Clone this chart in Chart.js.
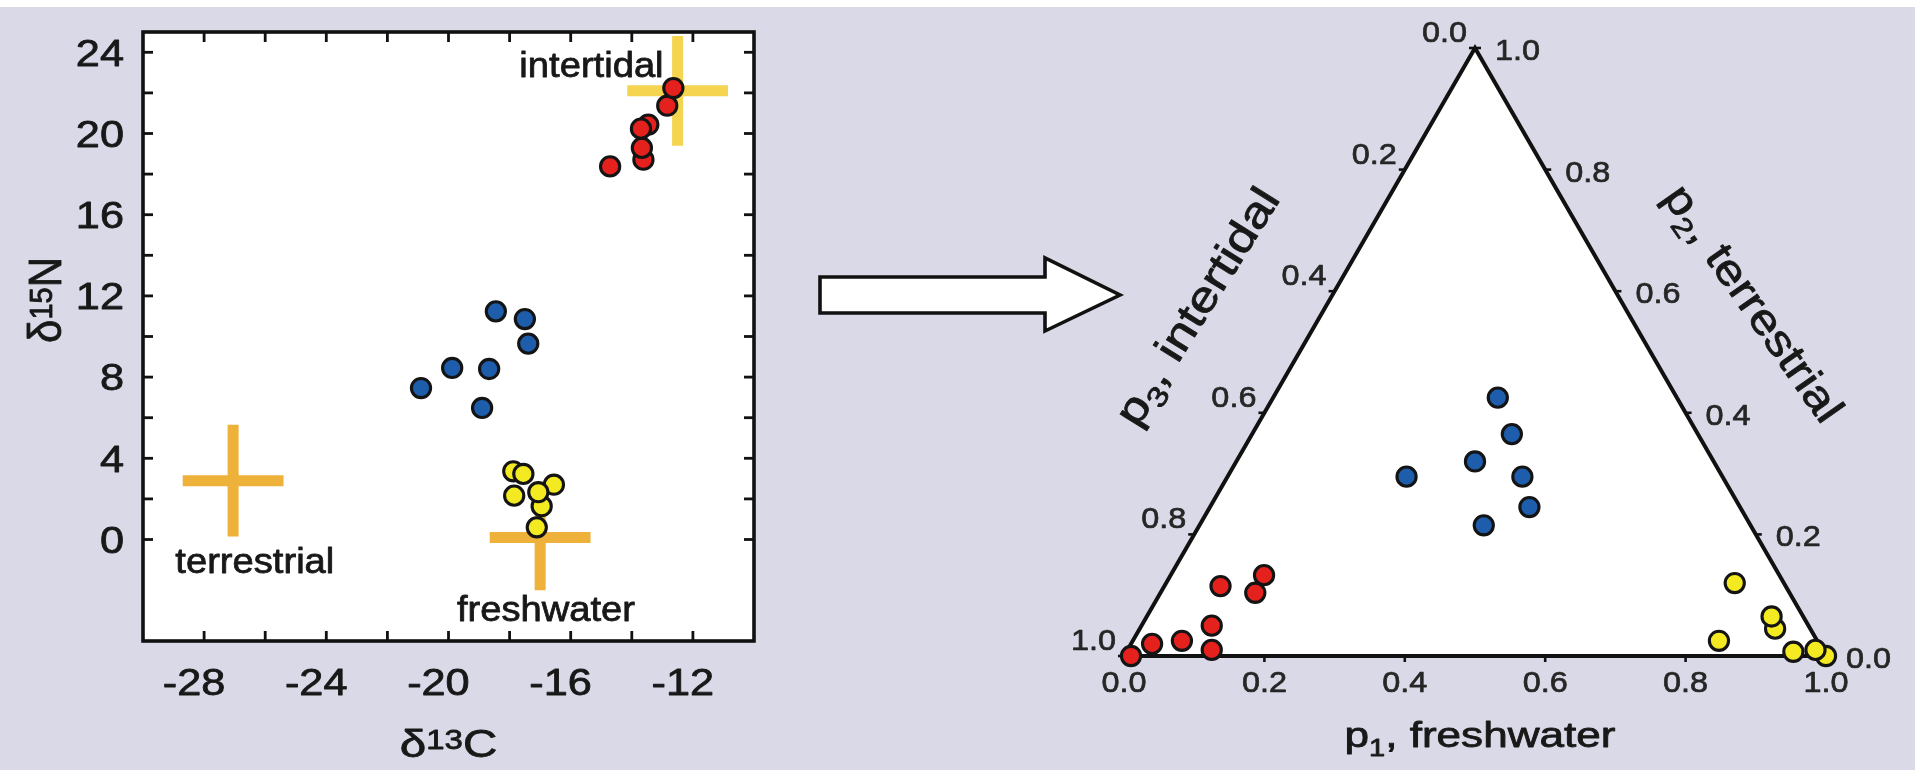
<!DOCTYPE html>
<html>
<head>
<meta charset="utf-8">
<script src="https://cdn.jsdelivr.net/npm/chart.js@4.4.0/dist/chart.umd.min.js"></script>
<style>
  html, body { margin:0; padding:0; width:1915px; height:770px; overflow:hidden; background:#D9D9E7; }
  #strip { position:absolute; left:0; top:0; width:1915px; height:7px; background:#ffffff; }
  #w1 { position:absolute; left:0; top:0; width:790px; height:770px; }
  #w2 { position:absolute; left:800px; top:0; width:1115px; height:770px; }
  #arrow { position:absolute; left:0; top:0; }
</style>
</head>
<body>
<div id="strip"></div>
<div id="w1"><canvas id="c1" width="790" height="770"></canvas></div>
<svg id="arrow" width="1915" height="770">
  <polygon points="820,277 1045,277 1045,258 1120,295 1045,331 1045,313 820,313"
           fill="#ffffff" stroke="#111111" stroke-width="3.6" stroke-linejoin="miter"/>
</svg>
<div id="w2"><canvas id="c2" width="1115" height="770"></canvas></div>

<script>
// ---------------- Left panel data: d13C (x) vs d15N (y) ----------------
const intertidalD13C = [-14.71, -13.62, -13.67, -13.46, -13.70, -12.84, -12.64];
const intertidalD15N = [18.38, 18.71, 19.29, 20.44, 20.24, 21.37, 22.24];
const mixedD13C      = [-18.45, -17.50, -17.39, -19.88, -18.67, -20.90, -18.90];
const mixedD15N      = [11.24, 10.86, 9.65, 8.45, 8.40, 7.46, 6.48];
const freshD13C      = [-17.88, -17.55, -16.55, -17.85, -16.95, -17.06, -17.11];
const freshD15N      = [3.36, 3.23, 2.70, 2.16, 1.64, 2.33, 0.60];

// Source means with error bars (crosses)
const sourceNames    = ['intertidal', 'terrestrial', 'freshwater'];
const sourceD13C     = [-12.5, -27.05, -17.0];
const sourceD15N     = [22.1, 2.9, 0.1];
const sourceD13CErr  = [1.65, 1.65, 1.65];
const sourceD15NErr  = [2.7, 2.75, 2.6];

// Left panel axes
const xRange = [-30, -10];
const yRange = [-5, 25];
const xTickLabels = [-28, -24, -20, -16, -12];
const xTickMarks  = [-28, -26, -24, -22, -20, -18, -16, -14, -12];
const yTickLabels = [0, 4, 8, 12, 16, 20, 24];
const yTickMarks  = [0, 2, 4, 6, 8, 10, 12, 14, 16, 18, 20, 22, 24];

// ---------------- Right panel data: ternary proportions ----------------
// p1 = freshwater, p2 = terrestrial, p3 = intertidal = 1 - p1 - p2
const redP1    = [0.01, 0.03, 0.07, 0.10, 0.12, 0.08, 0.133, 0.135];
const redP2    = [0.00, 0.02, 0.025, 0.05, 0.01, 0.115, 0.133, 0.104];
const blueP1   = [0.32, 0.37, 0.34, 0.255, 0.42, 0.455, 0.405];
const blueP2   = [0.425, 0.365, 0.32, 0.295, 0.295, 0.245, 0.215];
const yellowP1 = [0.81, 0.905, 0.89, 0.835, 0.95, 1.0, 0.98];
const yellowP2 = [0.12, 0.045, 0.065, 0.025, 0.007, 0.0, 0.01];
const ternaryTicks      = [0.0, 0.2, 0.4, 0.6, 0.8, 1.0];
const ternaryTickLabels = ['0.0', '0.2', '0.4', '0.6', '0.8', '1.0'];

// ---------------- helpers ----------------
const FONT = "'Liberation Sans', Arial, Helvetica, sans-serif";
const H = Math.sqrt(3) / 2;
const RED = '#E5211D', BLUE = '#1D5DAB', YELLOW = '#F4EA22', EDGE = '#141414';
const sourceColors = ['#F5D450', '#EEB13A', '#EEB13A'];

function zip(xs, ys) { return xs.map((v, i) => ({ x: v, y: ys[i] })); }
function ternaryXY(p1s, p2s) { return p1s.map((p1, i) => ({ x: p1 + p2s[i] / 2, y: p2s[i] * H })); }
function crossData(i) {
  const cx = sourceD13C[i], cy = sourceD15N[i], ex = sourceD13CErr[i], ey = sourceD15NErr[i];
  return [{x: cx - ex, y: cy}, {x: cx + ex, y: cy}, {x: cx, y: null}, {x: cx, y: cy - ey}, {x: cx, y: cy + ey}];
}
function richText(ctx, parts, x, y, o) {
  o = o || {};
  ctx.save();
  ctx.translate(x, y);
  if (o.preScale) ctx.scale(o.preScale, 1);
  if (o.rot) ctx.rotate(o.rot);
  if (o.postScale) ctx.scale(o.postScale, 1);
  const col = o.color || '#181818';
  ctx.fillStyle = col;
  ctx.strokeStyle = col;
  ctx.lineWidth = o.weight === undefined ? 0.8 : o.weight;
  ctx.lineJoin = 'round';
  ctx.textBaseline = 'alphabetic';
  ctx.textAlign = 'left';
  let total = 0;
  const widths = parts.map(p => { ctx.font = p.s + 'px ' + FONT; const w = ctx.measureText(p.t).width; total += w; return w; });
  let cx = o.align === 'right' ? -total : (o.align === 'left' ? 0 : -total / 2);
  cx += (o.shift || 0);
  parts.forEach((p, i) => {
    ctx.font = p.s + 'px ' + FONT;
    const yy = (o.dy || 0) + (p.dy || 0);
    ctx.fillText(p.t, cx, yy);
    if (ctx.lineWidth > 0) ctx.strokeText(p.t, cx, yy);
    cx += widths[i];
  });
  ctx.restore();
}
function seg(ctx, x1, y1, x2, y2) { ctx.beginPath(); ctx.moveTo(x1, y1); ctx.lineTo(x2, y2); ctx.stroke(); }

const pointStyle = { pointRadius: 9.6, pointBorderWidth: 3.1, borderColor: EDGE, pointHoverRadius: 9.6, clip: false, order: 1 };

// ---------------- Left chart ----------------
const sourceLabelPos = { intertidal: [-15.32, 22.8], terrestrial: [-26.34, -1.66], freshwater: [-16.81, -4.02] };

const leftPanel = {
  id: 'leftPanel',
  beforeDatasetsDraw(chart) {
    const { ctx, chartArea: a } = chart;
    ctx.save(); ctx.fillStyle = '#ffffff'; ctx.fillRect(a.left, a.top, a.right - a.left, a.bottom - a.top); ctx.restore();
    const { x, y } = chart.scales;
    sourceNames.forEach(n => {
      const p = sourceLabelPos[n];
      richText(ctx, [{ t: n, s: 35 }], x.getPixelForValue(p[0]), y.getPixelForValue(p[1]), { align: 'center', preScale: 1.09 });
    });
  },
  afterDatasetsDraw(chart) {
    const { ctx, chartArea: a } = chart;
    const { x, y } = chart.scales;
    ctx.save();
    ctx.strokeStyle = '#111'; ctx.lineWidth = 2.8; ctx.lineCap = 'butt';
    xTickMarks.forEach(v => { const px = x.getPixelForValue(v); seg(ctx, px, a.bottom, px, a.bottom - 10); seg(ctx, px, a.top, px, a.top + 10); });
    yTickMarks.forEach(v => { const py = y.getPixelForValue(v); seg(ctx, a.left, py, a.left + 10, py); seg(ctx, a.right, py, a.right - 10, py); });
    ctx.lineWidth = 3.6; ctx.strokeRect(a.left, a.top, a.right - a.left, a.bottom - a.top);
    // tick labels
    ctx.font = '37px ' + FONT;
    const m = ctx.measureText('-').width;
    xTickLabels.forEach(v => {
      richText(ctx, [{ t: String(v), s: 37 }], x.getPixelForValue(v), a.bottom + 54, { align: 'center', preScale: 1.17, shift: -m * 0.7 });
    });
    yTickLabels.forEach(v => {
      richText(ctx, [{ t: String(v), s: 37 }], a.left - 19, y.getPixelForValue(v) + 13.2, { align: 'right', preScale: 1.17 });
    });
    // axis titles
    richText(ctx, [{ t: 'δ', s: 39 }, { t: '13', s: 27, dy: -8 }, { t: 'C', s: 39 }], (a.left + a.right) / 2, a.bottom + 116, { align: 'center', preScale: 1.22 });
    richText(ctx, [{ t: 'δ', s: 42 }, { t: '15', s: 29, dy: -8 }, { t: 'N', s: 42 }], a.left - 82, y.getPixelForValue(11.8), { align: 'center', preScale: 1.1, rot: -Math.PI / 2 });
    ctx.restore();
  }
};

new Chart(document.getElementById('c1'), {
  type: 'scatter',
  data: {
    datasets: [
      ...sourceNames.map((n, i) => ({
        label: n + ' source', data: crossData(i), showLine: true, spanGaps: false,
        borderColor: sourceColors[i], borderWidth: 11, borderCapStyle: 'butt',
        pointRadius: 0, pointHoverRadius: 0, clip: false, order: 2
      })),
      { label: 'intertidal', data: zip(intertidalD13C, intertidalD15N), backgroundColor: RED, ...pointStyle },
      { label: 'mixed', data: zip(mixedD13C, mixedD15N), backgroundColor: BLUE, ...pointStyle },
      { label: 'freshwater', data: zip(freshD13C, freshD15N), backgroundColor: YELLOW, ...pointStyle }
    ]
  },
  options: {
    responsive: false, animation: false, events: [],
    layout: { padding: { left: 143, top: 32, right: 36, bottom: 129 } },
    scales: {
      x: { type: 'linear', min: xRange[0], max: xRange[1], display: false },
      y: { type: 'linear', min: yRange[0], max: yRange[1], display: false }
    },
    plugins: { legend: { display: false }, tooltip: { enabled: false } }
  },
  plugins: [leftPanel]
});

// ---------------- Right chart (ternary) ----------------
const ternaryPanel = {
  id: 'ternaryPanel',
  beforeDatasetsDraw(chart) {
    const { ctx } = chart;
    const { x, y } = chart.scales;
    const P = (p1, p2) => ({ x: x.getPixelForValue(p1 + p2 / 2), y: y.getPixelForValue(p2 * H) });
    const A = P(0, 0), B = P(1, 0), C = P(0, 1);
    ctx.save();
    ctx.beginPath(); ctx.moveTo(A.x, A.y); ctx.lineTo(B.x, B.y); ctx.lineTo(C.x, C.y); ctx.closePath();
    ctx.fillStyle = '#ffffff'; ctx.fill();
    ctx.strokeStyle = '#111'; ctx.lineWidth = 4; ctx.lineJoin = 'miter'; ctx.stroke();
    ctx.lineWidth = 2.6;
    ternaryTicks.forEach((t, i) => {
      const b = P(t, 0), l = P(0, 1 - t), r = P(1 - t, t);
      seg(ctx, b.x, b.y, b.x, b.y + 6);
      seg(ctx, l.x, l.y, l.x - 6, l.y);
      seg(ctx, r.x, r.y, r.x + 6, r.y);
      const lab = ternaryTickLabels[i];
      const o = { preScale: 1.08, color: '#262626', weight: 0.7 };
      richText(ctx, [{ t: lab, s: 30 }], b.x, b.y + 36, { ...o, align: 'center' });
      richText(ctx, [{ t: lab, s: 30 }], l.x - 8, l.y - 6, { ...o, align: 'right' });
      richText(ctx, [{ t: lab, s: 30 }], r.x + 20, r.y + 12, { ...o, align: 'left' });
    });
    // axis titles
    richText(ctx, [{ t: 'p', s: 35 }, { t: '1', s: 23, dy: 9 }, { t: ', freshwater', s: 35 }],
      (A.x + B.x) / 2 + 5, A.y + 91, { align: 'center', preScale: 1.26 });
    const ml = P(0, 0.5);
    richText(ctx, [{ t: 'p', s: 43 }, { t: '3', s: 28, dy: 10 }, { t: ', intertidal', s: 43 }],
      ml.x - 0.866 * 112 - 6, ml.y - 0.5 * 112 + 10, { align: 'center', rot: -58 * Math.PI / 180, postScale: 1.2, dy: 15 });
    const mr = P(0.5, 0.5);
    richText(ctx, [{ t: 'p', s: 43 }, { t: '2', s: 28, dy: 10 }, { t: ', terrestrial', s: 43 }],
      mr.x + 0.866 * 114 + 5, mr.y - 0.5 * 114 + 8, { align: 'center', rot: 55 * Math.PI / 180, postScale: 1.15, dy: 15 });
    ctx.restore();
  }
};

new Chart(document.getElementById('c2'), {
  type: 'scatter',
  data: {
    datasets: [
      { label: 'intertidal', data: ternaryXY(redP1, redP2), backgroundColor: RED, ...pointStyle },
      { label: 'mixed', data: ternaryXY(blueP1, blueP2), backgroundColor: BLUE, ...pointStyle },
      { label: 'freshwater', data: ternaryXY(yellowP1, yellowP2), backgroundColor: YELLOW, ...pointStyle }
    ]
  },
  options: {
    responsive: false, animation: false, events: [],
    layout: { padding: { left: 324, top: 48, right: 89, bottom: 114 } },
    scales: {
      x: { type: 'linear', min: 0, max: 1, display: false },
      y: { type: 'linear', min: 0, max: H, display: false }
    },
    plugins: { legend: { display: false }, tooltip: { enabled: false } }
  },
  plugins: [ternaryPanel]
});
</script>
</body>
</html>
